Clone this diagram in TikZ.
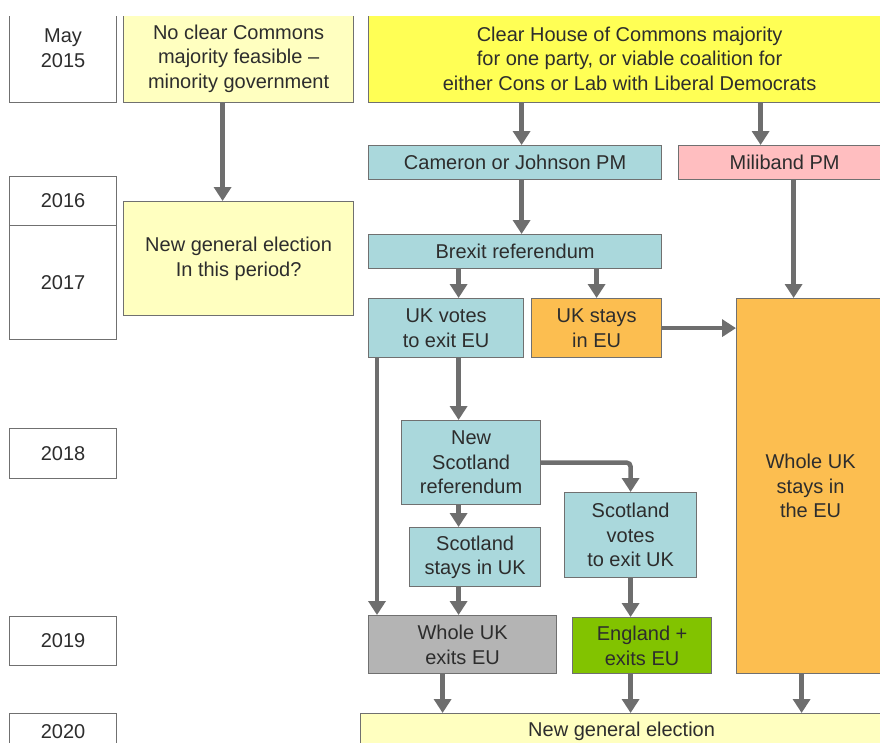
\documentclass[tikz,border=0pt]{standalone}
\usepackage{fontspec}
\setmainfont{Liberation Sans}
\usetikzlibrary{arrows.meta}

\definecolor{lineGray}{RGB}{112,112,112}
\definecolor{arrowGray}{RGB}{110,110,110}
\definecolor{textGray}{RGB}{45,45,45}
\definecolor{paleYellow}{RGB}{255,255,192}
\definecolor{brightYellow}{RGB}{255,255,85}
\definecolor{paleBlue}{RGB}{170,216,220}
\definecolor{palePink}{RGB}{255,190,192}
\definecolor{warmOrange}{RGB}{252,190,80}
\definecolor{midGray}{RGB}{180,180,180}
\definecolor{leafGreen}{RGB}{130,195,0}

\tikzset{
  box/.style={draw=lineGray, line width=1.2pt, inner sep=2pt, align=center,
    anchor=north west, text=textGray, font=\fontsize{20}{24.5}\selectfont},
  yearbox/.style={box, fill=white, minimum width=107pt},
  arr/.style={draw=arrowGray, line width=4.5pt,
    -{Triangle[width=17pt,length=14pt]}}
}

\begin{document}
\begin{tikzpicture}[x=1pt,y=1pt,yscale=-1,xscale=1]
        \useasboundingbox (0,0) rectangle (880,742);
        \clip (0,16) rectangle (880,742);

        %Year boxes
        \node[yearbox, minimum height=109pt] (may15) at (9,-7) {May\\2015};
        \node[yearbox, minimum height=49pt] (y2016) at (9,176) {2016};
        \node[yearbox, minimum height=114pt] (y2017) at (9,225) {2017};
        \node[yearbox, minimum height=50pt] (y2018) at (9,428) {2018};
        \node[yearbox, minimum height=49pt] (y2019) at (9,616) {2019};
        \node[yearbox, minimum height=36pt] (y2020) at (9,713) {2020};

        %Top row
        \node[box, fill=paleYellow, minimum width=230pt, minimum height=88pt] (noclear) at (123,14) {No clear Commons\\majority feasible --\\minority government};
        \node[box, fill=brightYellow, minimum width=522pt, minimum height=88pt] (clear) at (368,14) {Clear House of Commons majority\\for one party, or viable coalition for\\either Cons or Lab with Liberal Democrats};

        %Prime ministers
        \node[box, fill=paleBlue, minimum width=293pt, minimum height=34pt] (cameron) at (368,145) {Cameron or Johnson PM};
        \node[box, fill=palePink, minimum width=212pt, minimum height=34pt] (miliband) at (678,145) {Miliband PM};

        \node[box, fill=paleYellow, minimum width=230pt, minimum height=114pt] (newelec) at (123,201) {New general election\\In this period?};

        %Referendum
        \node[box, fill=paleBlue, minimum width=293pt, minimum height=34pt] (brexit) at (368,234) {Brexit referendum};
        \node[box, fill=paleBlue, minimum width=155pt, minimum height=59pt] (ukvotes) at (368,298) {UK votes\\to exit EU};
        \node[box, fill=warmOrange, minimum width=130pt, minimum height=59pt] (ukstays) at (531,298) {UK stays\\in EU};
        \node[box, fill=warmOrange, minimum width=148pt, minimum height=375pt] (ukremain) at (736,298) {Whole UK\\stays in\\the EU};

        %Scotland
        \node[box, fill=paleBlue, minimum width=139pt, minimum height=84pt] (scotref) at (401,420) {New\\Scotland\\referendum};
        \node[box, fill=paleBlue, minimum width=131pt, minimum height=59pt] (scotstays) at (409,527) {Scotland\\stays in UK};
        \node[box, fill=paleBlue, minimum width=132pt, minimum height=85pt] (scotexit) at (564,492) {Scotland\\votes\\to exit UK};

        %Outcomes
        \node[box, fill=midGray, minimum width=188pt, minimum height=58pt] (ukexit) at (368,615) {Whole UK\\exits EU};
        \node[box, fill=leafGreen, minimum width=139pt, minimum height=56pt] (england) at (572,617) {England +\\exits EU};
        \node[box, fill=paleYellow, minimum width=522pt, minimum height=36pt] (finalelec) at (360,713) {New general election};

        %Arrows
        \draw[arr] ([xshift=-16]noclear.south) -- ([xshift=-16]newelec.north);
        \draw[arr] ([xshift=6.5]cameron.north |- clear.south) -- ([xshift=6.5]cameron.north);
        \draw[arr] ([xshift=-24]miliband.north |- clear.south) -- ([xshift=-24]miliband.north);
        \draw[arr] ([xshift=6.5]cameron.south) -- ([xshift=6.5]brexit.north);
        \draw[arr] ([xshift=12.5]ukvotes.north |- brexit.south) -- ([xshift=12.5]ukvotes.north);
        \draw[arr] (ukstays.north |- brexit.south) -- (ukstays.north);
        \draw[arr] (ukstays.east) -- (ukstays.east -| ukremain.west);
        \draw[arr] ([xshift=9]miliband.south) -- ([xshift=9]miliband.south |- ukremain.north);
        \draw[arr] ([xshift=9]ukvotes.south west) -- ([xshift=9]ukvotes.south west |- ukexit.north);
        \draw[arr] ([xshift=12.5]ukvotes.south) -- ([xshift=12.5]ukvotes.south |- scotref.north);
        \draw[arr] ([xshift=-12.5]scotref.south) -- ([xshift=-12.5]scotref.south |- scotstays.north);
        \draw[arr, rounded corners=4pt] (scotref.east) -| (scotexit.north);
        \draw[arr] ([xshift=-16.5]scotstays.south) -- ([xshift=-16.5]scotstays.south |- ukexit.north);
        \draw[arr] (scotexit.south) -- (scotexit.south |- england.north);
        \draw[arr] ([xshift=-20]ukexit.south) -- ([xshift=-20]ukexit.south |- finalelec.north);
        \draw[arr] (england.south -| scotexit.south) -- (finalelec.north -| scotexit.south);
        \draw[arr] ([xshift=-9]ukremain.south) -- ([xshift=-9]ukremain.south |- finalelec.north);
\end{tikzpicture}
\end{document}
